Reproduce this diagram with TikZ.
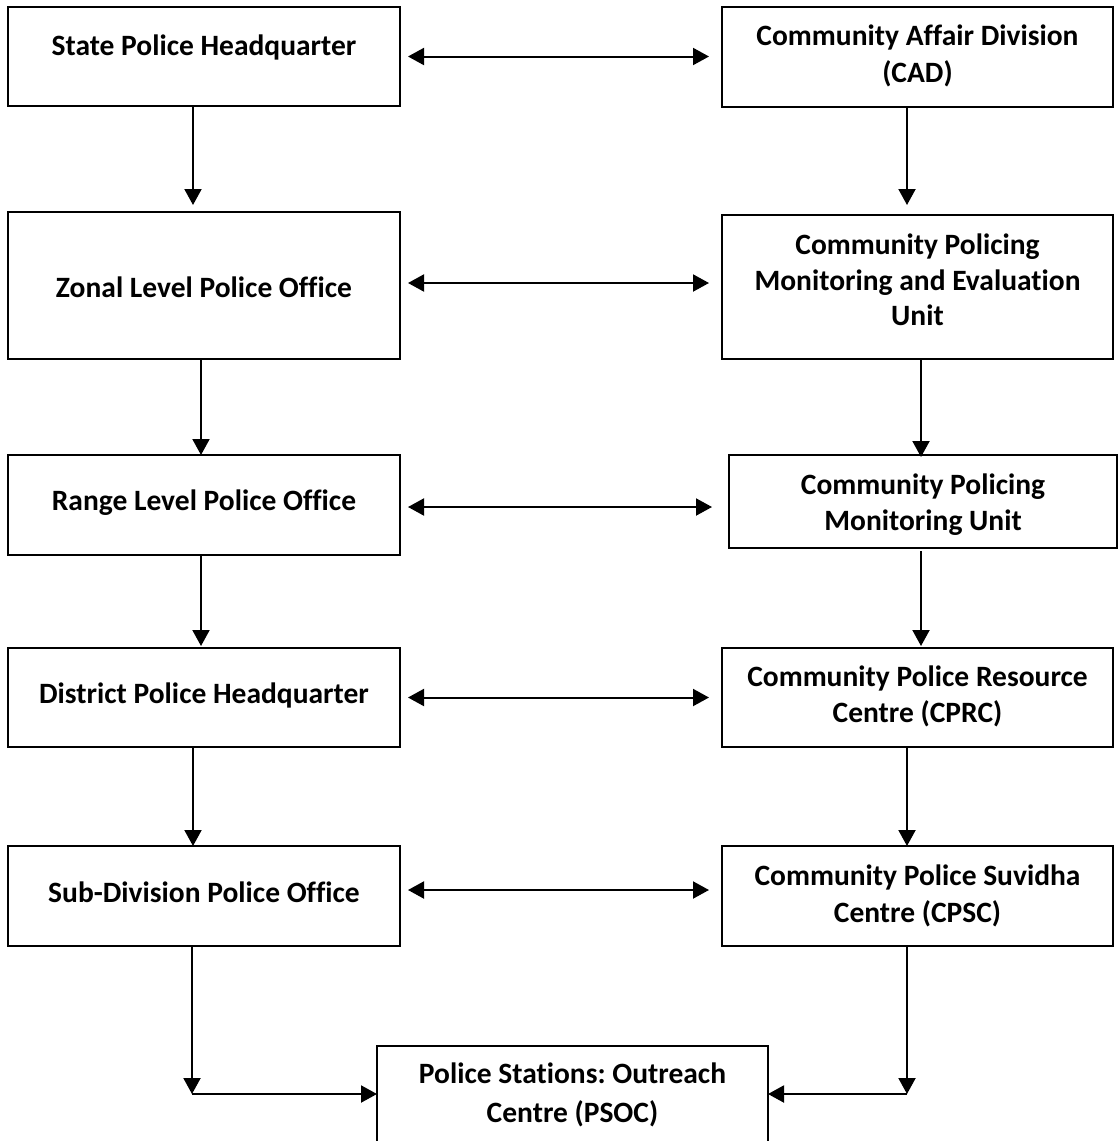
\documentclass[tikz,border=0pt]{standalone}
\usepackage{fontspec}
\setmainfont[Ligatures=NoCommon]{Carlito}
\usetikzlibrary{arrows.meta}
\frenchspacing
\begin{document}
\begin{tikzpicture}[x=1pt,y=-1pt,
  box/.style={draw=black, line width=2pt, inner sep=0pt, outer sep=0pt, rectangle},
  txt/.style={font=\bfseries\fontsize{29.5}{36.5}\selectfont, inner sep=0pt, anchor=base},
  arr/.style={line width=2pt, -{Triangle[length=16pt,width=17pt]}},
  darr/.style={line width=2pt, {Triangle[length=16pt,width=17pt]}-{Triangle[length=16pt,width=17pt]}},
  ln/.style={line width=2pt}]
\useasboundingbox (0,0) rectangle (1119,1141);
\clip (0,0) rectangle (1119,1141);
\fill[white] (0,0) rectangle (1119,1141);

% left column
\node[box, minimum width=392pt, minimum height=99pt] (sph) at (204,56.5) {};
\node[txt] (tsph) at (204,55) {State Police Headquarter};
\node[box, minimum width=392pt, minimum height=147pt] (zonal) at (204,285.5) {};
\node[txt] (tzonal) at (204,297) {Zonal Level Police Office};
\node[box, minimum width=392pt, minimum height=100pt] (range) at (204,505) {};
\node[txt] (trange) at (204,510) {Range Level Police Office};
\node[box, minimum width=392pt, minimum height=99pt] (district) at (204,697.5) {};
\node[txt] (tdistrict) at (204,703) {District Police Headquarter};
\node[box, minimum width=392pt, minimum height=100pt] (subdiv) at (204,896) {};
\node[txt] (tsubdiv) at (204,902) {Sub-Division Police Office};

% right column
\node[box, minimum width=391pt, minimum height=100pt] (cad) at (917.5,57) {};
\node[txt] (tcad1) at (917.5,45) {Community Affair Division};
\node[txt] (tcad2) at (917.5,82) {(CAD)};
\node[box, minimum width=391pt, minimum height=144pt] (cpmeu) at (917.5,287) {};
\node[txt] (tcpmeu1) at (917.5,254) {Community Policing};
\node[txt] (tcpmeu2) at (917.5,290) {Monitoring and Evaluation};
\node[txt] (tcpmeu3) at (917.5,325) {Unit};
\node[box, minimum width=388pt, minimum height=93pt] (cpmu) at (923,501.5) {};
\node[txt] (tcpmu1) at (923,494) {Community Policing};
\node[txt] (tcpmu2) at (923,530) {Monitoring Unit};
\node[box, minimum width=391pt, minimum height=99pt] (cprc) at (917.5,697.5) {};
\node[txt] (tcprc1) at (917.5,686) {Community Police Resource};
\node[txt] (tcprc2) at (917.5,722) {Centre (CPRC)};
\node[box, minimum width=391pt, minimum height=100pt] (cpsc) at (917.5,896) {};
\node[txt] (tcpsc1) at (917.5,885) {Community Police Suvidha};
\node[txt] (tcpsc2) at (917.5,922) {Centre (CPSC)};

% bottom
\node[box, minimum width=391pt, minimum height=124pt] (psoc) at (572.5,1108) {};
\node[txt] (tpsoc1) at (572.5,1083) {Police Stations: Outreach};
\node[txt] (tpsoc2) at (572.5,1122) {Centre (PSOC)};

\coordinate (c1) at (192,1094);
\coordinate (c2) at (907,1094);

% vertical arrows left
\draw[arr] ([xshift=-11pt]sph.south) -- ([xshift=-11pt,yshift=7pt]zonal.north);
\draw[arr] ([xshift=-3pt]zonal.south) -- ([xshift=-3pt]range.north);
\draw[arr] ([xshift=-3pt]range.south) -- ([xshift=-3pt,yshift=2pt]district.north);
\draw[arr] ([xshift=-11pt]district.south) -- ([xshift=-11pt]subdiv.north);
\draw[arr] (subdiv.south -| c1) -- (c1);
\draw[arr] (c1) -- (psoc.west |- c1);

% vertical arrows right
\draw[arr] ([xshift=-10.5pt]cad.south) -- ([xshift=-10.5pt,yshift=10pt]cpmeu.north);
\draw[arr] ([xshift=3.5pt]cpmeu.south) -- ([xshift=-2pt,yshift=-2pt]cpmu.north);
\draw[arr] ([xshift=-2pt,yshift=-3pt]cpmu.south) -- ([xshift=3.5pt,yshift=2pt]cprc.north);
\draw[arr] ([xshift=-10.5pt]cprc.south) -- ([xshift=-10.5pt]cpsc.north);
\draw[arr] (cpsc.south -| c2) -- (c2);
\draw[arr] (c2) -- (psoc.east |- c2);

% horizontal double arrows
\draw[darr] ([xshift=8pt]sph.east) -- ([xshift=-13pt]sph.east -| cad.west);
\draw[darr] ([xshift=8pt,yshift=2.5pt]zonal.east) -- ([xshift=-13pt,yshift=2.5pt]zonal.east -| cpmeu.west);
\draw[darr] ([xshift=8pt,yshift=-2pt]range.east) -- ([xshift=-17pt,yshift=-2pt]range.east -| cpmu.west);
\draw[darr] ([xshift=8pt]district.east) -- ([xshift=-13pt]district.east -| cprc.west);
\draw[darr] ([xshift=8pt,yshift=6pt]subdiv.east) -- ([xshift=-13pt,yshift=6pt]subdiv.east -| cpsc.west);
\end{tikzpicture}
\end{document}
